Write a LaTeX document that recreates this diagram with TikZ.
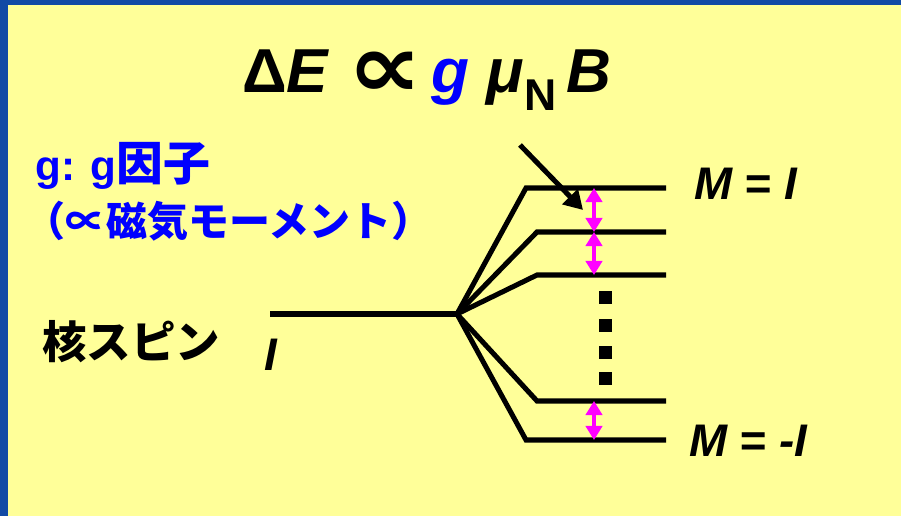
\documentclass[tikz,border=0pt]{standalone}
\usepackage{fontspec}
\setmainfont{Liberation Sans}
\newfontfamily\jpfont{Noto Sans CJK JP}
\newfontfamily\symfont{DejaVu Sans}
\usetikzlibrary{arrows.meta}
\definecolor{bordblue}{RGB}{18,74,165}
\definecolor{padyellow}{RGB}{255,255,153}
\definecolor{gapmag}{RGB}{255,0,255}

\begin{document}
\begin{tikzpicture}[x=0.03cm,y=-0.03cm,
    lvl/.style={line width=4.3pt},
    gaparrow/.style={gapmag,line width=2.6pt,{Triangle[width=14pt,length=12pt]}-{Triangle[width=14pt,length=12pt]}},
    lab/.style={inner sep=0pt,anchor=base west}]
    \fill[bordblue] (0,0) rectangle (901,516);
    \fill[padyellow] (8,5) rectangle (901,516);
    \useasboundingbox (0,0) rectangle (901,516);
    % energy levels
    \coordinate (spin) at (270,314);
    \coordinate (split) at (457,314);
    \coordinate (lv1) at (526,188);
    \coordinate (lv2) at (537,232);
    \coordinate (lv3) at (537,275);
    \coordinate (lv4) at (537,401);
    \coordinate (lv5) at (526,440);
    \coordinate (mark) at (594,0);
    \draw[lvl] (spin)--(split);
    \draw[lvl] (split)--(lv1)--++(140,0);
    \draw[lvl] (split)--(lv2)--++(129,0);
    \draw[lvl] (split)--(lv3)--++(129,0);
    \draw[lvl] (split)--(lv4)--++(129,0);
    \draw[lvl] (split)--(lv5)--++(140,0);
    \draw[gaparrow] (mark |- lv1)--(mark |- lv2);
    \draw[gaparrow] (mark |- lv2)--(mark |- lv3);
    \draw[gaparrow] (mark |- lv4)--(mark |- lv5);
    \foreach \y in {298,325,352,378}
        \fill (598.5,\y-6.5) rectangle ++(13,13);
    \coordinate (ptail) at (520,145);
    \coordinate (phead) at (583,210);
    \draw[lvl,-{Triangle[width=18pt,length=16pt]}] (ptail)--(phead);
    % labels
    \node[lab] (dE) at (242,93) {\fontsize{53}{60}\selectfont\bfseries
        Δ\textit{E}\;\raisebox{-0.08em}{\scalebox{1.7}[1.45]{\symfont ∝}}\hspace{8pt}{\color{blue}\textit{g}} \textit{μ}\raisebox{-0.28em}{\fontsize{38}{40}\selectfont N}\,\textit{B}};
    \node[lab,blue] (gfac) at (35,181) {\fontsize{36}{40}\selectfont\bfseries g: g{\jpfont\fontsize{40}{44}\selectfont 因子}};
    \node[lab,blue] (moment) at (24,237) {\fontsize{35}{40}\selectfont\jpfont\bfseries （∝磁気モーメント）};
    \node[lab] (spinname) at (42,358) {\fontsize{38}{44}\selectfont\jpfont\bfseries 核スピン};
    \node[lab] (spinI) at (264,370) {\fontsize{39}{44}\selectfont\bfseries\itshape I};
    \node[lab] (mtop) at (694,200) {\fontsize{39}{44}\selectfont\bfseries\itshape M = I};
    \node[lab] (mbot) at (689,456) {\fontsize{39}{44}\selectfont\bfseries\itshape M = -I};
\end{tikzpicture}
\end{document}
